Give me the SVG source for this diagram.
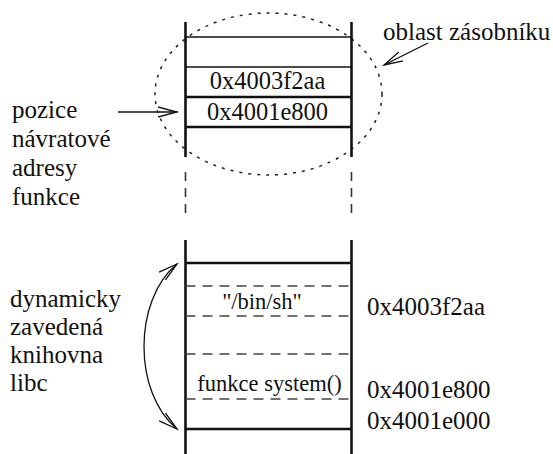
<svg xmlns="http://www.w3.org/2000/svg" width="553" height="454" viewBox="0 0 553 454">
<style>
text{font-family:'Liberation Serif','Times New Roman',Times,serif;font-size:25px;fill:#111}
.box{font-size:24.5px}
.in{font-size:22.5px}
.mid{text-anchor:middle}
.wall{stroke:#111;stroke-width:2.6;fill:none}
.thin{stroke:#111;stroke-width:1.5;fill:none}
.thick{stroke:#111;stroke-width:2.6;fill:none}
.dash{stroke:#444;stroke-width:1.5;stroke-dasharray:10 7;fill:none}
.vdash{stroke:#333;stroke-width:1.6;stroke-dasharray:9 7;fill:none}
.arr{stroke:#111;stroke-width:1.3;fill:none}
</style>
<defs>
<marker id="ah" markerUnits="userSpaceOnUse" markerWidth="22" markerHeight="14" refX="19" refY="6" orient="auto-start-reverse" viewBox="0 0 22 12">
<path d="M0,1 L19,6 L0,11" fill="none" stroke="#111" stroke-width="1.3"/>
</marker>
</defs>
<g id="stack-area">
<ellipse cx="268.5" cy="94" rx="113.5" ry="81" fill="none" stroke="#222" stroke-width="1.5" stroke-dasharray="3 6"/>
</g>
<g id="stack">
<line class="wall" x1="185.5" y1="22" x2="185.5" y2="157"/>
<line class="wall" x1="351.5" y1="22" x2="351.5" y2="157"/>
<line class="thin" x1="185.5" y1="37" x2="351.5" y2="37"/>
<line class="thin" x1="185.5" y1="67" x2="351.5" y2="67"/>
<line class="thick" x1="185.5" y1="97" x2="351.5" y2="97"/>
<line class="thick" x1="185.5" y1="127" x2="351.5" y2="127"/>
<text class="mid box" x="267.5" y="89">0x4003f2aa</text>
<text class="mid box" x="267.5" y="119.5">0x4001e800</text>
</g>
<g id="gap">
<line class="vdash" x1="185.5" y1="172" x2="185.5" y2="218"/>
<line class="vdash" x1="351.5" y1="172" x2="351.5" y2="218"/>
</g>
<g id="libc">
<line class="wall" x1="185.5" y1="240" x2="185.5" y2="454"/>
<line class="wall" x1="351.5" y1="240" x2="351.5" y2="454"/>
<line class="thick" x1="185.5" y1="263" x2="351.5" y2="263"/>
<line class="dash" x1="185.5" y1="286" x2="351.5" y2="286"/>
<line class="dash" x1="185.5" y1="316" x2="351.5" y2="316"/>
<line class="dash" x1="185.5" y1="354" x2="351.5" y2="354"/>
<line class="dash" x1="185.5" y1="399" x2="351.5" y2="399"/>
<line class="thick" x1="185.5" y1="429" x2="351.5" y2="429"/>
<text class="mid in" x="262" y="309">"/bin/sh"</text>
<text class="mid in" x="269.5" y="391">funkce system()</text>
</g>
<g id="addr-labels">
<text x="367" y="315">0x4003f2aa</text>
<text x="367" y="398">0x4001e800</text>
<text x="367" y="429">0x4001e000</text>
</g>
<g id="label-stack">
<text x="383" y="40">oblast zásobníku</text>
</g>
<g id="label-ret">
<text x="12" y="118">pozice</text>
<text x="12" y="147">návratové</text>
<text x="12" y="176">adresy</text>
<text x="12" y="205">funkce</text>
</g>
<g id="label-libc">
<text x="10" y="307">dynamicky</text>
<text x="10" y="335">zavedená</text>
<text x="10" y="363">knihovna</text>
<text x="10" y="391">libc</text>
</g>
<g id="connectors">
<line class="arr" x1="118" y1="112" x2="177" y2="112" marker-end="url(#ah)"/>
<line class="arr" x1="428" y1="43" x2="384" y2="65" marker-end="url(#ah)"/>
<path class="arr" d="M177,264 C133,300 133,393 177,429" marker-start="url(#ah)" marker-end="url(#ah)"/>
</g>
</svg>
